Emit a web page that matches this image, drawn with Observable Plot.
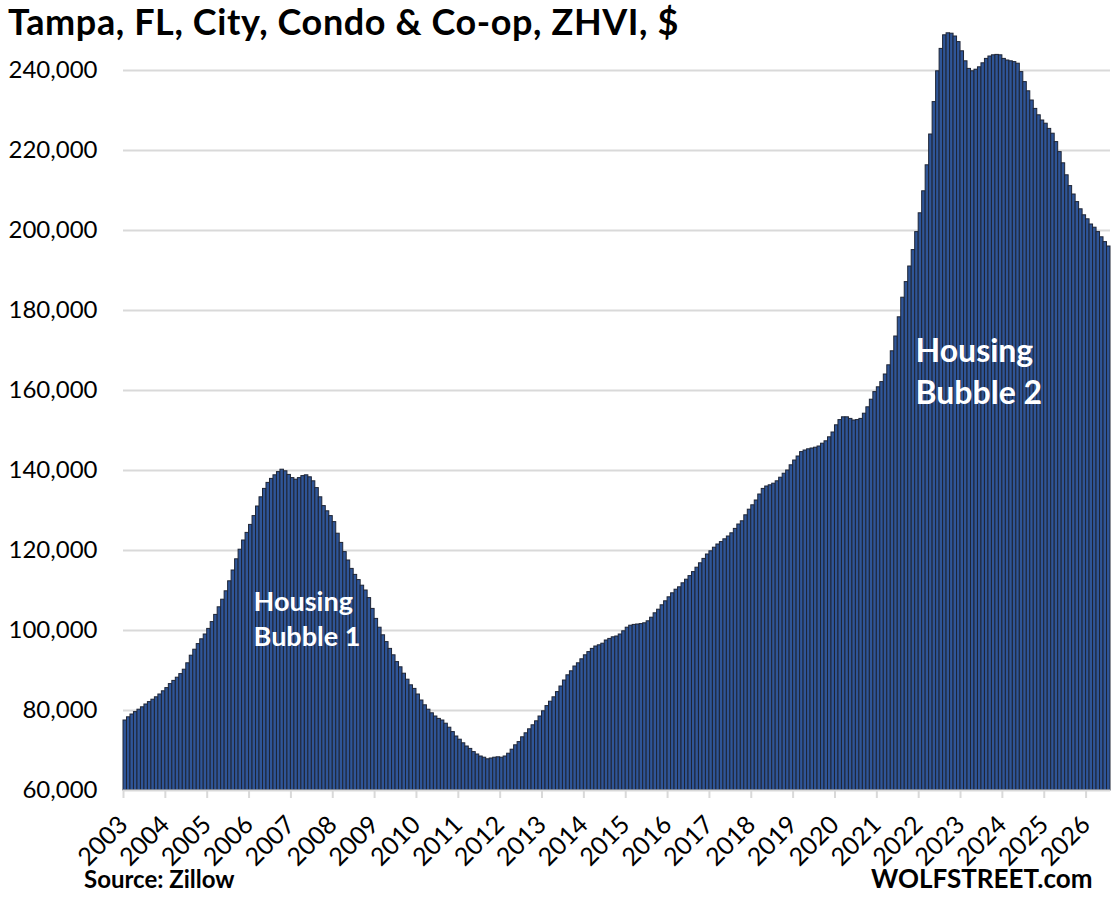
<!DOCTYPE html>
<html>
<head>
<meta charset="utf-8">
<script src="https://cdn.jsdelivr.net/npm/d3@7"></script>
<script src="https://cdn.jsdelivr.net/npm/@observablehq/plot@0.6"></script>
<style>
  body { margin: 0; background: #fff; font-family: Lato, "Open Sans", sans-serif; }
  #wrap { position: relative; width: 1115px; height: 899px; overflow: hidden; background: #fff; }
  #chart { position: absolute; left: 0; top: 0; }
  .txt { position: absolute; font-weight: 700; color: #000; white-space: nowrap; line-height: 1.2; }
  #title { left: 8px; top: 0px; font-size: 36px; letter-spacing: 0.6px; }
  #source { left: 84px; top: 865px; font-size: 24px; }
  #brand { left: 871px; top: 863px; font-size: 26px; }
</style>
</head>
<body>
<div id="wrap">
  <div id="chart"></div>
  <div id="title" class="txt">Tampa, FL, City, Condo &amp; Co-op, ZHVI, $</div>
  <div id="source" class="txt">Source: Zillow</div>
  <div id="brand" class="txt">WOLFSTREET.com</div>
</div>
<script>
// Monthly values, thousands of $, starting January 2003
const startYear = 2003;
const zhviThousands = [
  77.5, 78.3, 79.0, 79.6, 80.2, 80.8, 81.5, 82.1, 82.7, 83.3, 84.0, 84.8,        // 2003
  85.6, 86.6, 87.4, 88.2, 89.1, 90.2, 91.8, 93.7, 95.2, 96.6, 97.8, 99.0,        // 2004
  100.4, 102.1, 103.9, 105.8, 107.7, 109.8, 112.3, 115.0, 117.8, 120.2, 122.5, 124.4, // 2005
  126.4, 128.6, 131.0, 133.3, 135.4, 136.9, 137.9, 138.8, 139.6, 140.2, 139.8, 138.9, // 2006
  138.1, 137.7, 138.1, 138.6, 138.8, 138.3, 137.3, 135.6, 133.3, 131.1, 129.8, 128.6, // 2007
  127.1, 124.2, 121.9, 119.6, 117.5, 115.4, 113.9, 112.6, 111.2, 110.0, 108.1, 105.4, // 2008
  102.9, 100.7, 98.8, 97.1, 95.4, 93.8, 92.1, 90.8, 89.2, 87.7, 86.3, 85.4,      // 2009
  84.0, 82.5, 81.3, 80.2, 79.3, 78.5, 77.9, 77.5, 76.7, 75.7, 74.6, 73.5,        // 2010
  72.7, 71.8, 71.0, 70.4, 69.6, 69.0, 68.5, 68.2, 67.8, 68.0, 68.2, 68.3,        // 2011
  68.2, 68.5, 69.2, 70.2, 71.3, 72.1, 73.3, 74.3, 75.3, 76.3, 77.3, 78.5,        // 2012
  79.8, 81.1, 82.2, 83.3, 84.6, 86.0, 87.5, 88.8, 89.8, 91.0, 91.8, 92.8,        // 2013
  93.8, 94.6, 95.4, 96.0, 96.3, 96.7, 97.5, 97.9, 98.3, 98.5, 99.0, 99.8,        // 2014
  100.7, 101.2, 101.4, 101.5, 101.6, 101.8, 102.3, 103.2, 104.3, 105.2, 106.3, 107.3, // 2015
  108.3, 109.3, 110.2, 110.8, 111.8, 112.7, 113.6, 114.6, 115.7, 116.8, 117.9, 119.0, // 2016
  119.8, 120.7, 121.5, 122.1, 122.8, 123.5, 124.3, 125.4, 126.5, 127.3, 128.8, 130.2, // 2017
  131.3, 132.5, 134.0, 135.4, 136.0, 136.3, 136.7, 137.3, 138.2, 139.2, 140.0, 141.3, // 2018
  142.5, 143.5, 144.6, 145.0, 145.3, 145.5, 145.7, 146.0, 146.7, 147.3, 148.3, 149.5, // 2019
  151.3, 152.6, 153.3, 153.3, 152.9, 152.5, 152.6, 152.9, 154.2, 155.8, 157.7, 159.6, // 2020
  160.8, 162.1, 164.0, 166.3, 169.8, 173.5, 178.3, 183.2, 187.1, 191.0, 195.1, 199.6, // 2021
  204.3, 209.8, 216.3, 224.0, 232.1, 239.8, 245.4, 248.8, 249.3, 249.2, 248.5, 247.1, // 2022
  244.8, 242.3, 240.4, 239.8, 240.2, 240.8, 241.8, 242.9, 243.5, 243.8, 243.9, 243.8, // 2023
  242.9, 242.5, 242.3, 242.1, 241.7, 239.6, 237.1, 234.8, 232.5, 230.4, 228.8, 227.5, // 2024
  226.7, 225.4, 224.2, 222.1, 219.6, 216.8, 213.8, 211.1, 209.0, 207.1, 205.3, 203.8, // 2025
  202.8, 201.5, 200.7, 199.6, 198.3, 197.1, 196.0                                 // 2026
];
const yTicks = [60000, 80000, 100000, 120000, 140000, 160000, 180000, 200000, 220000, 240000];
const yearLabels = d3.range(2003, 2027);

// annotation lines (month index from Jan 2003, value)
const annoText  = ["Housing", "Bubble 1", "Housing", "Bubble 2"];
const annoMonth = [37.3, 37.3, 227.1, 227.1];
const annoValue = [105000, 96250, 167250, 156750];
const annoSize  = [27, 27, 32, 32];

const bars = zhviThousands.map((v, i) => ({ m: i, value: v * 1000 }));
const yearTickMonths = yearLabels.map(y => (y - startYear) * 12);
const annos = annoText.map((t, i) => ({ t, m: annoMonth[i], v: annoValue[i], s: annoSize[i] }));
const yBase = yTicks[0];

const chart = Plot.plot({
  width: 1115,
  height: 899,
  marginLeft: 123,
  marginRight: 5,
  marginTop: 30,
  marginBottom: 109,
  style: { fontFamily: "Lato, 'Open Sans', sans-serif", fontSize: "24px", color: "#000", background: "#fff", overflow: "visible" },
  x: { type: "linear", domain: [0, bars.length] },
  y: { type: "linear", domain: [60000, 250000] },
  marks: [
    Plot.ruleY(yTicks.slice(1), { stroke: "#d9d9d9", strokeWidth: 2 }),
    Plot.rectY(bars, {
      x1: "m",
      x2: d => d.m + 1,
      y1: yBase,
      y2: "value",
      fill: "#2f5597",
      stroke: "#1e2535",
      strokeWidth: 1
    }),
    Plot.ruleY([yBase], { stroke: "#d9d9d9", strokeWidth: 2 }),
    Plot.axisX({
      ticks: yearTickMonths,
      tickFormat: d => String(startYear + d / 12),
      tickRotate: -45,
      tickSize: 8,
      tickPadding: 22,
      stroke: "#d9d9d9",
      strokeWidth: 2,
      fill: "#000",
      fontSize: 25,
      label: null
    }),
    Plot.axisY({
      ticks: yTicks,
      tickFormat: d3.format(","),
      tickSize: 0,
      tickPadding: 26,
      fill: "#000",
      fontSize: 24,
      label: null
    }),
    Plot.text(annos, {
      x: "m",
      y: "v",
      text: "t",
      textAnchor: "start",
      lineAnchor: "bottom",
      fill: "#fff",
      fontWeight: 700,
      fontSize: d => d.s
    })
  ]
});
document.getElementById("chart").appendChild(chart);
</script>
</body>
</html>
